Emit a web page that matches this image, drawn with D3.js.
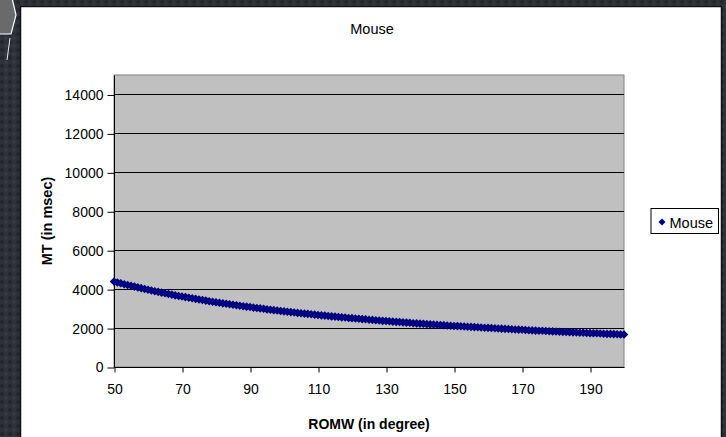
<!DOCTYPE html>
<html>
<head>
<meta charset="utf-8">
<script src="https://cdn.jsdelivr.net/npm/d3@7"></script>
<style>
html,body{margin:0;padding:0;background:#2c2f35;}
svg{display:block;font-family:"Liberation Sans",Arial,sans-serif;}
</style>
</head>
<body>
<svg id="chart" width="726" height="437"></svg>
<script>
const chartTitle = "Mouse";
const seriesName = "Mouse";
const xTitle = "ROMW (in degree)";
const yTitle = "MT (in msec)";
const xTicks = [50, 70, 90, 110, 130, 150, 170, 190];
const yTicks = [0, 2000, 4000, 6000, 8000, 10000, 12000, 14000];
const romw = [50,51,52,53,54,55,56,57,58,59,60,61,62,63,64,65,66,67,68,69,70,71,72,73,74,75,76,77,78,79,80,81,82,83,84,85,86,87,88,89,90,91,92,93,94,95,96,97,98,99,100,101,102,103,104,105,106,107,108,109,110,111,112,113,114,115,116,117,118,119,120,121,122,123,124,125,126,127,128,129,130,131,132,133,134,135,136,137,138,139,140,141,142,143,144,145,146,147,148,149,150,151,152,153,154,155,156,157,158,159,160,161,162,163,164,165,166,167,168,169,170,171,172,173,174,175,176,177,178,179,180,181,182,183,184,185,186,187,188,189,190,191,192,193,194,195,196,197,198,199,200];
const mt = [4390,4340,4300,4250,4210,4170,4130,4090,4050,4010,3970,3930,3890,3860,3820,3790,3750,3720,3680,3650,3620,3590,3560,3530,3500,3470,3440,3410,3380,3350,3330,3300,3270,3250,3220,3200,3170,3150,3120,3100,3080,3050,3030,3010,2990,2960,2940,2920,2900,2880,2860,2840,2820,2800,2780,2760,2740,2730,2710,2690,2670,2650,2640,2620,2600,2590,2570,2550,2540,2520,2510,2490,2480,2460,2450,2430,2420,2400,2390,2370,2360,2350,2330,2320,2310,2290,2280,2270,2250,2240,2230,2220,2200,2190,2180,2170,2160,2150,2130,2120,2110,2100,2090,2080,2070,2060,2050,2040,2030,2020,2010,2000,1990,1980,1970,1960,1950,1940,1930,1920,1910,1900,1890,1880,1870,1860,1860,1850,1840,1830,1820,1810,1800,1800,1790,1780,1770,1760,1760,1750,1740,1730,1730,1720,1710,1700,1700,1690,1680,1670,1670];

const svg = d3.select("#chart");

// dark textured slide background
const defs = svg.append("defs");
const pat = defs.append("pattern").attr("id","tex").attr("width",8).attr("height",8).attr("patternUnits","userSpaceOnUse");
pat.append("rect").attr("width",8).attr("height",8).attr("fill","#2e3238");
pat.append("circle").attr("cx",2).attr("cy",2).attr("r",2).attr("fill","#22252a");
pat.append("circle").attr("cx",6).attr("cy",6).attr("r",1.6).attr("fill","#383c43");
svg.append("rect").attr("width",726).attr("height",437).attr("fill","url(#tex)");

// arrow shape at top-left
svg.append("path").attr("d","M-2,-2 L12,-2 L16,15 L11,34 L-2,34 Z")
  .attr("fill","#6a6a6a").attr("stroke","#ffffff").attr("stroke-width",1.2);
svg.append("path").attr("d","M10,38 L7,60").attr("stroke","#e8e8e8").attr("stroke-width",1).attr("fill","none");

// white chart panel
svg.append("rect").attr("x",20.5).attr("y",6.5).attr("width",701).attr("height",440)
  .attr("fill","#ffffff").attr("stroke","#111111").attr("stroke-width",1.5);

const plot = {left:114, right:624, top:75, bottom:367};
const x = d3.scaleLinear().domain([50,200]).range([plot.left, plot.right]);
const y = d3.scaleLinear().domain([0,15000]).range([plot.bottom, plot.top]);

// plot area
svg.append("rect").attr("x",plot.left).attr("y",plot.top)
  .attr("width",plot.right-plot.left).attr("height",plot.bottom-plot.top)
  .attr("fill","#c0c0c0").attr("stroke","#808080").attr("stroke-width",1);

// gridlines
svg.append("g").selectAll("line").data(yTicks.filter(d=>d>0)).join("line")
  .attr("x1",plot.left).attr("x2",plot.right)
  .attr("y1",d=>Math.round(y(d))+0.5).attr("y2",d=>Math.round(y(d))+0.5)
  .attr("stroke","#000").attr("stroke-width",1);

// axes
const yAxis = d3.axisLeft(y).tickValues(yTicks).tickSize(7).tickPadding(4).tickFormat(d3.format("d"));
const gy = svg.append("g").attr("transform",`translate(${plot.left+0.5},0.5)`).call(yAxis);
gy.select(".domain").attr("d",`M0,${plot.top}V${plot.bottom}`).attr("stroke","#000");
gy.selectAll("text").attr("font-size",14).attr("fill","#000").attr("font-family","Liberation Sans, Arial, sans-serif");
gy.selectAll("line").attr("stroke","#000");

const xAxis = d3.axisBottom(x).tickValues(xTicks).tickSize(5).tickPadding(12).tickFormat(d3.format("d"));
const gx = svg.append("g").attr("transform",`translate(0.5,${plot.bottom+0.5})`).call(xAxis);
gx.select(".domain").attr("d",`M${plot.left},0H${plot.right}`).attr("stroke","#000");
gx.selectAll("text").attr("font-size",14).attr("fill","#000").attr("font-family","Liberation Sans, Arial, sans-serif");
gx.selectAll("line").attr("stroke","#000");

// markers
const diamond = "M0,-4.3L4.3,0L0,4.3L-4.3,0Z";
svg.append("g").selectAll("path").data(mt).join("path")
  .attr("d",diamond)
  .attr("transform",(d,i)=>`translate(${x(romw[i])},${y(d)})`)
  .attr("fill","#000080");

// titles
svg.append("text").attr("x",372).attr("y",34).attr("text-anchor","middle")
  .attr("font-size",14.5).attr("fill","#000").text(chartTitle);
svg.append("text").attr("x",369).attr("y",429).attr("text-anchor","middle")
  .attr("font-size",14).attr("font-weight","bold").attr("fill","#000").text(xTitle);
svg.append("text").attr("transform",`translate(52,${(plot.top+plot.bottom)/2}) rotate(-90)`)
  .attr("text-anchor","middle").attr("font-size",14.5).attr("font-weight","bold").attr("fill","#000").text(yTitle);

// legend
const lg = svg.append("g");
lg.append("rect").attr("x",651).attr("y",208.5).attr("width",67.5).attr("height",25)
  .attr("fill","#fff").attr("stroke","#000").attr("stroke-width",1);
lg.append("path").attr("d","M0,-3.5L3.5,0L0,3.5L-3.5,0Z").attr("transform","translate(662,222)").attr("fill","#000080");
lg.append("text").attr("x",669.5).attr("y",227.5).attr("font-size",14.5).attr("fill","#000").text(seriesName);
</script>
</body>
</html>
